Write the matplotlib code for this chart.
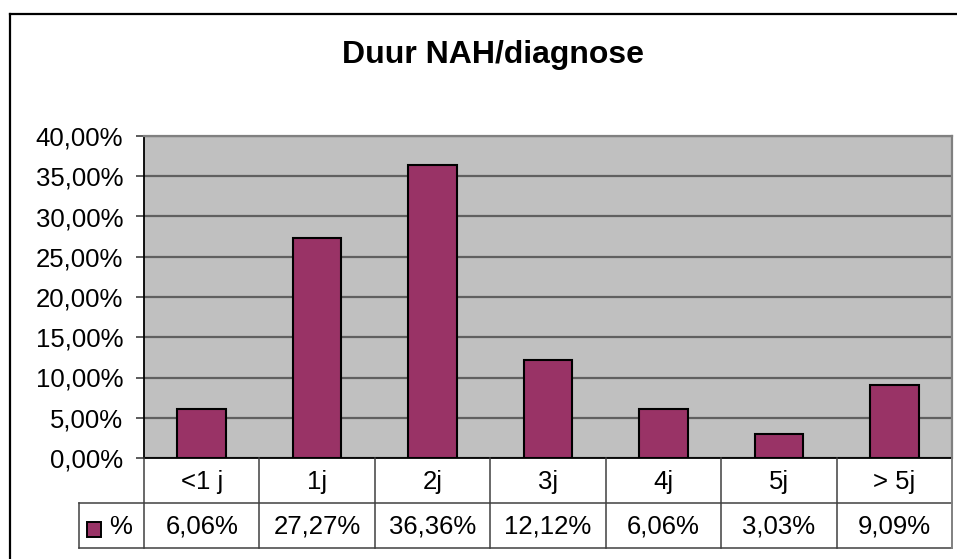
import matplotlib
matplotlib.use("Agg")
import matplotlib.pyplot as plt
from matplotlib.lines import Line2D
from matplotlib.patches import Rectangle
import matplotlib.transforms as mtransforms

categories = ["<1 j", "1j", "2j", "3j", "4j", "5j", "> 5j"]
values = [6.06, 27.27, 36.36, 12.12, 6.06, 3.03, 9.09]
value_labels = ["6,06%", "27,27%", "36,36%", "12,12%", "6,06%", "3,03%", "9,09%"]
series_name = "%"
title = "Duur NAH/diagnose"
yticks = [0, 5, 10, 15, 20, 25, 30, 35, 40]

W, H = 957, 559
plt.rcParams['font.family'] = ['Liberation Sans', 'DejaVu Sans']
fig = plt.figure(figsize=(W / 100, H / 100), dpi=100)
fig.patch.set_facecolor('white')

def fx(px):
    return px / W

def fy(py):
    return 1 - py / H

L, R, T, B = 144, 952, 136, 458
ax = fig.add_axes([fx(L), fy(B), fx(R - L), (B - T) / H])
ax.set_facecolor('#C0C0C0')
n = len(categories)
xs = list(range(n))
ax.bar(xs, values, width=0.42, color='#993366', edgecolor='black', linewidth=1.5, zorder=3)
ax.set_xlim(-0.5, n - 0.5)
ax.set_ylim(0, 40)
ax.set_yticks(yticks)
ax.set_yticklabels([f"{v:.2f}".replace('.', ',') + "%" for v in yticks], fontsize=18.5)
ax.yaxis.grid(True, color='#606060', linewidth=1.6, zorder=1)
ax.set_axisbelow(True)
ax.set_xticks([])
ax.tick_params(axis='y', length=6, width=1.2, color='#404040', pad=9)
for s in ['top', 'right']:
    ax.spines[s].set_color('#808080')
    ax.spines[s].set_linewidth(1.6)
ax.spines['left'].set_color('black')
ax.spines['left'].set_linewidth(1.3)
ax.spines['bottom'].set_visible(False)

# title
fig.text(fx(493), fy(55), title, ha='center', va='center', fontsize=23, fontweight='bold')

# outer chart border (left and top)
fig.add_artist(Line2D([fx(10), fx(10)], [fy(14), fy(H + 5)], color='black', linewidth=1.6))
fig.add_artist(Line2D([fx(10), fx(W + 5)], [fy(14), fy(14)], color='black', linewidth=1.6))

# data table
row1_top, row1_bot, row2_bot = B, 503, 548
leg_left = 79
lc = '#404040'
lw = 1.1
fig.add_artist(Line2D([fx(L), fx(R)], [fy(row1_top), fy(row1_top)], color='black', linewidth=1.3))
fig.add_artist(Line2D([fx(leg_left), fx(R)], [fy(row1_bot), fy(row1_bot)], color=lc, linewidth=lw))
fig.add_artist(Line2D([fx(leg_left), fx(R)], [fy(row2_bot), fy(row2_bot)], color=lc, linewidth=lw))
fig.add_artist(Line2D([fx(leg_left), fx(leg_left)], [fy(row1_bot), fy(row2_bot)], color=lc, linewidth=lw))
fig.add_artist(Line2D([fx(R), fx(R)], [fy(row1_top), fy(row2_bot)], color='#808080', linewidth=1.4))
colw = (R - L) / n
for i in range(n):
    xb = L + i * colw
    fig.add_artist(Line2D([fx(xb), fx(xb)], [fy(row1_top), fy(row2_bot)], color=lc, linewidth=lw))

trans = mtransforms.blended_transform_factory(ax.transData, fig.transFigure)
for i, (c, v) in enumerate(zip(categories, value_labels)):
    fig.text(i, fy((row1_top + row1_bot) / 2 + 1), c, transform=trans, ha='center', va='center', fontsize=18.5)
    fig.text(i, fy((row1_bot + row2_bot) / 2 + 1), v, transform=trans, ha='center', va='center', fontsize=18.5)

# legend key
fig.add_artist(Rectangle((fx(87), fy(537)), fx(14), (537 - 522) / H, facecolor='#993366',
                         edgecolor='black', linewidth=1.4, transform=fig.transFigure))
fig.text(fx(109), fy(527), series_name, ha='left', va='center', fontsize=18.5)

fig.savefig("out.png", dpi=100)
